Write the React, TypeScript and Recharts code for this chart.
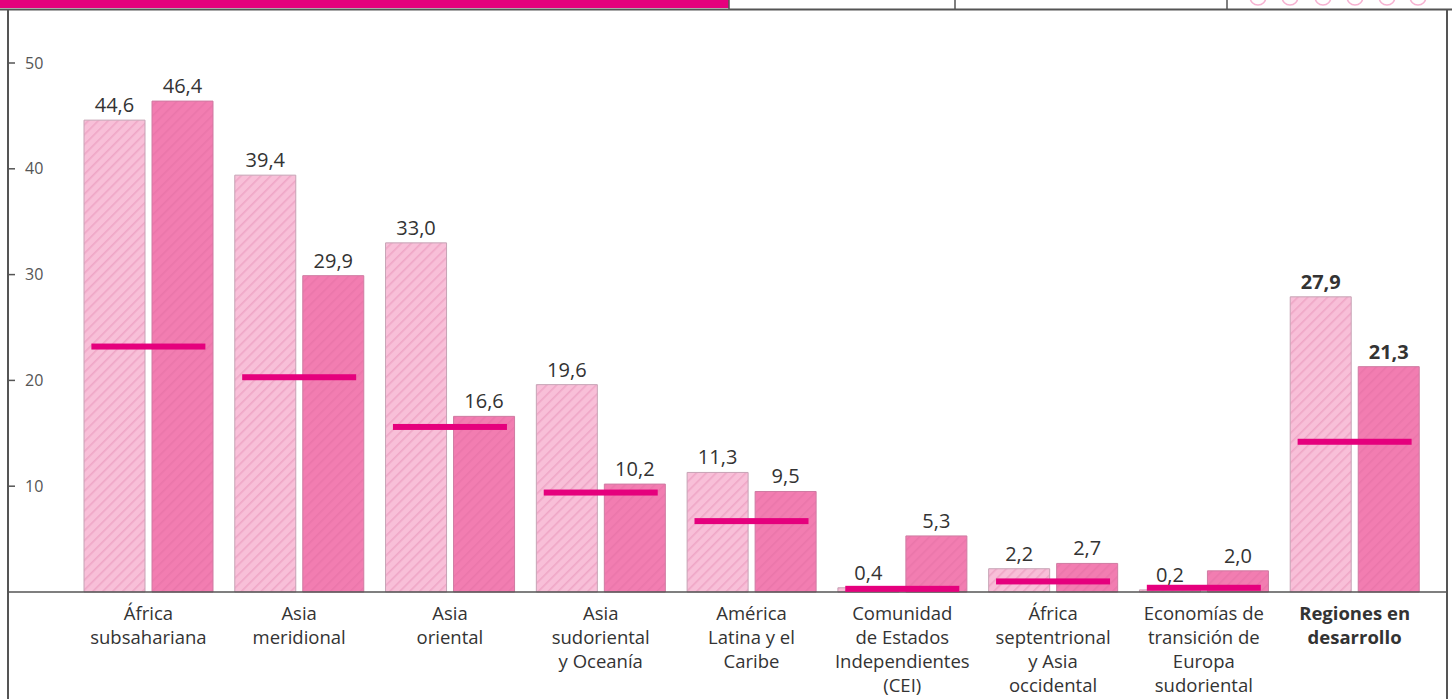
import React from "react";
import { ComposedChart, Bar, Scatter, XAxis, YAxis, LabelList } from "recharts";

const categories = [
  "África\nsubsahariana",
  "Asia\nmeridional",
  "Asia\noriental",
  "Asia\nsudoriental\ny Oceanía",
  "América\nLatina y el\nCaribe",
  "Comunidad\nde Estados\nIndependientes\n(CEI)",
  "África\nseptentrional\ny Asia\noccidental",
  "Economías de\ntransición de\nEuropa\nsudoriental",
  "Regiones en\ndesarrollo",
];
const series1990 = [44.6, 39.4, 33.0, 19.6, 11.3, 0.4, 2.2, 0.2, 27.9];
const series2005 = [46.4, 29.9, 16.6, 10.2, 9.5, 5.3, 2.7, 2.0, 21.3];
const targets = [23.2, 20.3, 15.6, 9.4, 6.7, 0.3, 1.0, 0.4, 14.2];
const yTicks = [10, 20, 30, 40, 50];

const data = categories.map((name, i) => ({
  name,
  a: series1990[i],
  b: series2005[i],
  t: targets[i],
}));

const FONT = "'Open Sans', 'DejaVu Sans', sans-serif";
const BOLD_INDEX = categories.length - 1;
const fmt = (v: number) => v.toFixed(1).replace(".", ",");

const ValueLabel = (props: any) => {
  const { x, y, width, value, index } = props;
  return (
    <text
      x={x + width / 2}
      y={y - 8}
      textAnchor="middle"
      fontFamily={FONT}
      fontSize={20}
      fontWeight={index === BOLD_INDEX ? 700 : 400}
      fill="#333"
    >
      {fmt(value)}
    </text>
  );
};

const CategoryTick = (props: any) => {
  const { x, y, payload, index } = props;
  const lines = String(payload.value).split("\n");
  return (
    <text
      x={x}
      y={y}
      textAnchor="middle"
      fontFamily={FONT}
      fontSize={18.5}
      fontWeight={index === BOLD_INDEX ? 700 : 400}
      fill="#333"
    >
      {lines.map((l, i) => (
        <tspan key={i} x={x} y={y + 28 + i * 24}>
          {l}
        </tspan>
      ))}
    </text>
  );
};

const YTick = (props: any) => {
  const { y, payload } = props;
  return (
    <g>
      <line x1={8} y1={y} x2={15} y2={y} stroke="#555" strokeWidth={1.5} />
      <text x={25} y={y + 5.5} fontFamily={FONT} fontSize={16} fill="#555" textAnchor="start">
        {payload.value}
      </text>
    </g>
  );
};

const TargetMark = (props: any) => {
  const { cx, cy } = props;
  if (cx == null || cy == null) return null;
  return <rect x={cx - 57} y={cy - 3} width={114} height={6} fill="#e5007d" />;
};

export default function App() {
  const circles = [1258, 1290, 1323, 1355, 1387, 1418];
  return (
    <div style={{ position: "absolute", left: 0, top: 0, width: 1452, height: 699, background: "#fff" }}>
      <svg width={0} height={0} style={{ position: "absolute" }}>
        <defs>
          <pattern id="hatchLight" patternUnits="userSpaceOnUse" width={7} height={7} patternTransform="rotate(45)">
            <rect width={7} height={7} fill="#f8bfd8" />
            <rect width={1.6} height={7} fill="#efa6c6" />
          </pattern>
          <pattern id="hatchDark" patternUnits="userSpaceOnUse" width={7} height={7} patternTransform="rotate(45)">
            <rect width={7} height={7} fill="#f27db1" />
            <rect width={1.6} height={7} fill="#ea76aa" />
          </pattern>
        </defs>
      </svg>
      <svg width={1452} height={699} style={{ position: "absolute", left: 0, top: 0 }}>
        <rect x={0} y={0} width={729} height={8} fill="#e5007d" />
        {circles.map((c) => (
          <circle key={c} cx={c} cy={-3} r={8} fill="none" stroke="#f7b3d2" strokeWidth={1.5} />
        ))}
        <line x1={729} y1={0} x2={729} y2={9} stroke="#555" strokeWidth={1.5} />
        <line x1={955} y1={0} x2={955} y2={9} stroke="#555" strokeWidth={1.5} />
        <line x1={1227} y1={0} x2={1227} y2={9} stroke="#555" strokeWidth={1.5} />
        <line x1={0} y1={9.5} x2={1452} y2={9.5} stroke="#555" strokeWidth={2} />
        <line x1={8} y1={9} x2={8} y2={699} stroke="#555" strokeWidth={2} />
        <line x1={1447} y1={9} x2={1447} y2={699} stroke="#555" strokeWidth={2} />
      </svg>
      <div style={{ position: "absolute", left: 0, top: 0 }}>
        <ComposedChart
          width={1452}
          height={699}
          data={data}
          margin={{ top: 63, right: 5, bottom: 0, left: 8 }}
          barSize={61}
          barGap={7}
        >
          <XAxis
            dataKey="name"
            height={107}
            padding={{ left: 65, right: 17 }}
            axisLine={{ stroke: "#555", strokeWidth: 1.5 }}
            tickLine={false}
            tickSize={0}
            tickMargin={0}
            interval={0}
            tick={<CategoryTick />}
          />
          <YAxis
            width={40}
            mirror
            domain={[0, 50]}
            ticks={yTicks}
            axisLine={false}
            tickLine={false}
            tick={<YTick />}
          />
          <Bar dataKey="a" fill="url(#hatchLight)" stroke="#c6a3b5" strokeWidth={1} isAnimationActive={false}>
            <LabelList dataKey="a" content={<ValueLabel />} />
          </Bar>
          <Bar dataKey="b" fill="url(#hatchDark)" stroke="#cf7ba2" strokeWidth={1} isAnimationActive={false}>
            <LabelList dataKey="b" content={<ValueLabel />} />
          </Bar>
          <Scatter dataKey="t" shape={<TargetMark />} isAnimationActive={false} />
        </ComposedChart>
      </div>
    </div>
  );
}
